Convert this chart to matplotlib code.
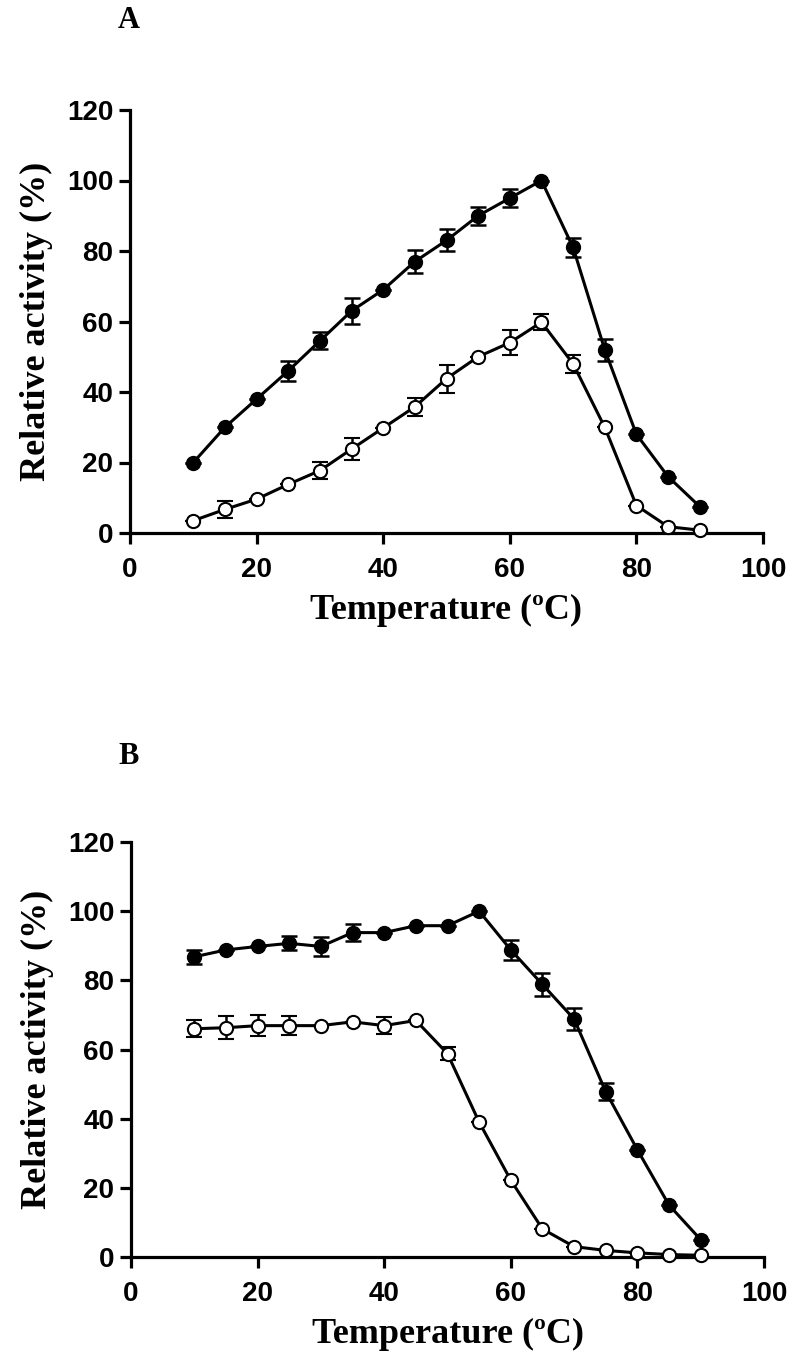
import matplotlib
matplotlib.use("Agg")
import matplotlib.pyplot as plt

# temperature (ºC)
temp = [10, 15, 20, 25, 30, 35, 40, 45, 50, 55, 60, 65, 70, 75, 80, 85, 90]

# panel A: activity
a_filled = [20, 30, 38, 46, 54.5, 63, 69, 77, 83, 90, 95, 100, 81, 52, 28, 16, 7.5]
a_filled_err = [0, 0, 0, 2.9, 2.4, 3.7, 0, 3.2, 3.1, 2.6, 2.6, 0, 2.6, 3.1, 0, 0, 0]
a_open = [3.5, 6.7, 9.6, 13.8, 17.7, 23.8, 29.8, 35.8, 43.8, 50, 54, 59.8, 48, 30, 7.8, 1.8, 0.8]
a_open_err = [0, 2.4, 0, 0, 2.4, 3.2, 0, 2.6, 4, 0, 3.5, 2.3, 2.6, 0, 0, 0, 0]

# panel B: activity
b_filled = [86.8, 88.8, 89.8, 90.7, 89.8, 93.8, 93.8, 95.8, 95.8, 100, 88.8, 78.8, 68.8, 47.8, 31, 15, 5]
b_filled_err = [2, 0, 0, 2, 2.7, 2.5, 0, 0, 0, 0, 2.8, 3.2, 3.2, 2.4, 0, 0, 0]
b_open = [66, 66.3, 66.9, 66.9, 66.9, 68, 66.9, 68.4, 58.8, 39, 22.2, 8.1, 3, 1.9, 1.2, 0.7, 0.5]
b_open_err = [2.5, 3.4, 3, 2.7, 0, 0, 2.4, 0, 1.9, 0, 0, 0, 0, 0, 0, 0, 0]

xticks = [0, 20, 40, 60, 80, 100]
yticks = [0, 20, 40, 60, 80, 100, 120]

tick_font = {"family": "Liberation Sans", "weight": "bold", "size": 20}
label_font = {"family": "Liberation Serif", "weight": "bold", "size": 26}

W, H = 791, 1354
fig = plt.figure(figsize=(W / 100, H / 100), dpi=100)


def draw_panel(rect, filled, filled_err, hollow, hollow_err, letter, letter_y):
    ax = fig.add_axes(rect)
    ax.errorbar(temp, filled, yerr=filled_err, color="black", lw=2.2,
                marker="o", ms=10, mfc="black", mec="black",
                elinewidth=1.8, capsize=5.5, capthick=1.8, clip_on=False, zorder=3)
    ax.errorbar(temp, hollow, yerr=hollow_err, color="black", lw=2.2,
                marker="o", ms=9.5, mfc="white", mec="black", mew=1.5,
                elinewidth=1.8, capsize=5.5, capthick=1.8, clip_on=False, zorder=3)
    ax.set_xlim(0, 100)
    ax.set_ylim(0, 120)
    ax.set_xticks(xticks)
    ax.set_yticks(yticks)
    ax.set_xticklabels([str(t) for t in xticks], fontdict=tick_font)
    ax.set_yticklabels([str(t) for t in yticks], fontdict=tick_font)
    for side in ["top", "right"]:
        ax.spines[side].set_visible(False)
    for side in ["left", "bottom"]:
        ax.spines[side].set_linewidth(2.3)
    ax.tick_params(direction="out", length=8, width=2.3)
    ax.tick_params(axis="x", pad=9)
    ax.tick_params(axis="y", pad=4)
    ax.set_xlabel("Temperature (ºC)", fontdict=label_font, labelpad=8)
    ax.set_ylabel("Relative activity (%)", fontdict=label_font, labelpad=10)
    fig.text(118 / W, 1 - letter_y / H, letter, fontfamily="Liberation Serif",
             fontweight="bold", fontsize=22, ha="left", va="center")
    return ax


draw_panel([130 / W, 1 - 533 / H, 633 / W, 423 / H],
           a_filled, a_filled_err, a_open, a_open_err, "A", 20)
draw_panel([131 / W, 1 - 1257 / H, 633 / W, 415 / H],
           b_filled, b_filled_err, b_open, b_open_err, "B", 757)

fig.savefig("out.png", dpi=100)
